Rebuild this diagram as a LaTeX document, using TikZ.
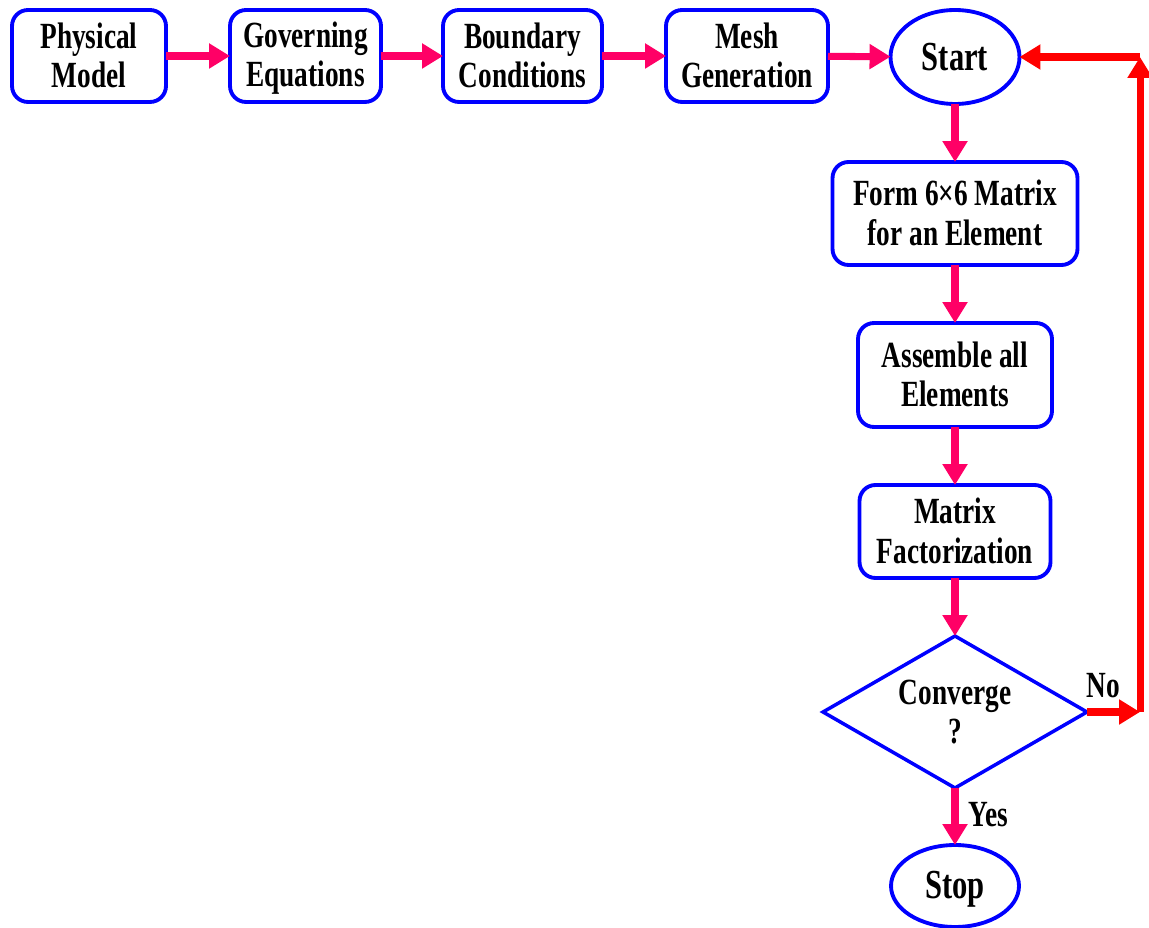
\documentclass[tikz,border=0pt]{standalone}
\usepackage{fontspec}
\setmainfont{Liberation Serif}[FakeStretch=0.74]
\usetikzlibrary{shapes.geometric,arrows.meta}
\definecolor{pinkc}{RGB}{255,0,102}
\definecolor{redc}{RGB}{255,0,0}
\definecolor{bluec}{RGB}{0,0,255}
\newcommand\ms{\vrule height 17pt depth 3.1pt width 0pt}
\newcommand\mb{\vrule height 19pt depth 3.4pt width 0pt}
\begin{document}
\begin{tikzpicture}[x=0.02cm,y=-0.02cm,
  every node/.style={font=\fontsize{21}{22.5}\selectfont\bfseries, align=center, outer sep=0pt},
  box/.style={draw=bluec, line width=2.2pt, rounded corners=0.32cm, inner sep=0pt},
  oval/.style={draw=bluec, line width=2.2pt, ellipse, inner sep=0pt, font=\fontsize{23.5}{25}\selectfont\bfseries},
  dia/.style={draw=bluec, line width=2pt, diamond, inner sep=0pt},
  flow/.style={draw=pinkc, line width=4pt, -{Triangle[length=0.42cm,width=0.48cm]}},
  loop/.style={draw=redc, line width=4pt, -{Triangle[length=0.42cm,width=0.48cm]}},
  lbl/.style={font=\fontsize{21}{22.5}\selectfont\bfseries}
]
\useasboundingbox (0,0) rectangle (1149,928);
\node[box, minimum width=3.08cm, minimum height=1.84cm] (pm) at (89,56) {Physical\ms\\Model\ms};
\node[box, minimum width=3.02cm, minimum height=1.84cm] (ge) at (305.5,56) {Governing\ms\\Equations\ms};
\node[box, minimum width=3.18cm, minimum height=1.84cm] (bc) at (522.5,56) {Boundary\ms\\Conditions\ms};
\node[box, minimum width=3.24cm, minimum height=1.84cm] (mg) at (747,56) {Mesh\ms\\Generation\ms};
\node[oval, minimum width=2.58cm, minimum height=1.88cm] (st) at (955,57) {Start\mb};
\node[box, minimum width=4.9cm, minimum height=2.06cm] (fm) at (955,213.5) {Form 6×6 Matrix\ms\\for an Element\ms};
\node[box, minimum width=3.88cm, minimum height=2.08cm] (ae) at (955,375) {Assemble all\ms\\Elements\ms};
\node[box, minimum width=3.82cm, minimum height=1.86cm] (mf) at (955,531.5) {Matrix\ms\\Factorization\ms};
\node[dia, minimum width=5.28cm, minimum height=3.04cm, aspect=1.737] (cv) at (955,712) {};
\node at (955,712) {Converge\ms\\?\ms};
\node[oval, minimum width=2.56cm, minimum height=1.64cm] (sp) at (955,886) {Stop\mb};
\coordinate (c1) at (1140,712);
\coordinate (c2) at (1140,57);
\draw[flow] (pm) -- (ge);
\draw[flow] (ge) -- (bc);
\draw[flow] (bc) -- (mg);
\draw[flow] (mg) -- (st);
\draw[flow] (st) -- (fm);
\draw[flow] (fm) -- (ae);
\draw[flow] (ae) -- (mf);
\draw[flow] (mf) -- (cv);
\draw[flow] (cv) -- (sp);
\draw[loop] (cv.east) -- (c1);
\draw[loop] (c1) -- (c2);
\draw[loop] (c2) -- (st.east);
\node[lbl] (no) at (1103,686) {No};
\node[lbl] (yes) at (988,815) {Yes};
\end{tikzpicture}
\end{document}
